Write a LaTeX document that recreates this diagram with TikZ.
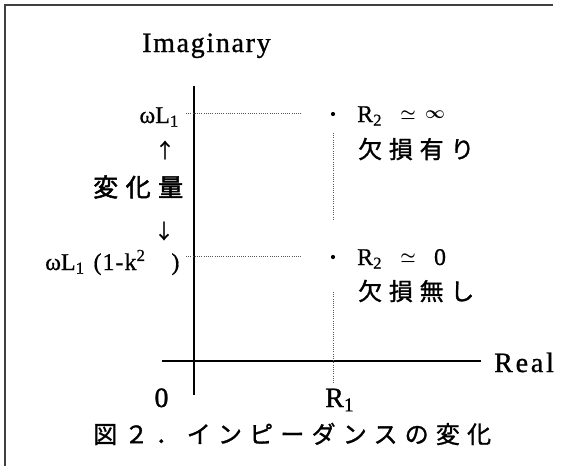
\documentclass[tikz,border=0pt]{standalone}
\usepackage{fontspec}
\setmainfont{Liberation Serif}
\newfontfamily\jp{Noto Sans CJK JP}
\newcommand\lblfont{\fontsize{24}{28}\selectfont\addfontfeature{FakeBold=0.6}}
\newcommand\bigfnt{\fontsize{28}{32}\selectfont\addfontfeature{FakeBold=1}}
\newcommand\jpfnt{\jp\fontsize{24}{28}\selectfont}
\begin{document}
\begin{tikzpicture}[x=1pt,y=-1pt,
  lbl/.style={inner sep=0pt, font=\lblfont},
  sym/.style={inner sep=0pt, font=\fontsize{17}{20}\selectfont\boldmath},
  big/.style={inner sep=0pt, font=\bigfnt},
  jlbl/.style={inner sep=0pt, font={\jpfnt\addfontfeature{LetterSpace=28,FakeBold=1.2}}},
  arr/.style={inner sep=0pt, font={\jp\fontsize{20}{24}\selectfont\addfontfeature{FakeBold=1.5}}},
  axisline/.style={line width=2.2pt},
  guide/.style={line width=0.9pt, black!65, dash pattern=on 0.9pt off 1.3pt},
  frameline/.style={line width=1.6pt, black!75},
  pt/.style={circle, fill=black, inner sep=0pt, minimum size=4.2pt}]
\useasboundingbox[fill=white] (0,0) rectangle (580,466);
% frame
\coordinate (f1) at (5,466);
\coordinate (f2) at (5,5);
\coordinate (f3) at (553,5);
\draw[frameline] (f1) -- (f2) -- (f3);
% axes
\coordinate (vtop) at (194,86);
\coordinate (vbot) at (194,395);
\coordinate (hl) at (162,361);
\coordinate (hr) at (481,361);
\draw[axisline] (vbot) -- (vtop);
\draw[axisline] (hl) -- (hr);
% axis labels
\node[big, anchor=base west, font={\bigfnt\addfontfeature{LetterSpace=6}}] (imag) at (142,52) {Imaginary};
\node[big, anchor=base west, font={\bigfnt\addfontfeature{LetterSpace=10}}] (real) at (494,372) {Real};
\node[big, anchor=base] (zero) at (161.5,407) {0};
\node[big, anchor=base west] (r1) at (325,407) {R\textsubscript{1}};
% left labels
\node[lbl, anchor=base east] (wl1) at (179,123) {ωL\textsubscript{1}};
\node[arr] (up) at (165,150) {↑};
\node[inner sep=0pt, anchor=west, font={\jp\fontsize{25}{28}\selectfont\addfontfeature{LetterSpace=30,FakeBold=2}}] (henka) at (93,187) {変化量};
\node[arr] (down) at (164,231) {↓};
\node[lbl, anchor=base west] (wl2) at (45,270) {ωL\textsubscript{1}\hspace{9pt}(\hspace{1pt}1\hspace{1pt}-\hspace{1pt}k\textsuperscript{2}\hspace{26pt})};
% points
\node[pt] (p1) at (333,114) {};
\node[pt] (p2) at (333,257) {};
% guides
\coordinate (g1a) at (186,113);
\coordinate (g1b) at (302,113);
\coordinate (g2a) at (186,256);
\coordinate (g2b) at (302,256);
\coordinate (v1a) at (333,133);
\coordinate (v1b) at (333,220);
\coordinate (v2a) at (333,292);
\coordinate (v2b) at (333,383);
\draw[guide] (g1a) -- (g1b);
\draw[guide] (g2a) -- (g2b);
\draw[guide] (v1a) -- (v1b);
\draw[guide] (v2a) -- (v2b);
% right labels
\node[lbl, anchor=base west] (r2a) at (357,122) {R\textsubscript{2}};
\node[sym] (sima) at (408,115) {$\simeq$};
\node[sym] (inf) at (435,115) {$\infty$};
\node[jlbl, anchor=west] (ari) at (358,149) {欠損有り};
\node[lbl, anchor=base west] (r2b) at (357,265) {R\textsubscript{2}};
\node[sym] (simb) at (408,258) {$\simeq$};
\node[lbl, anchor=base] (zerob) at (440,265) {0};
\node[jlbl, anchor=west] (nashi) at (358,291) {欠損無し};
% caption
\node[inner sep=0pt, anchor=west, font={\jpfnt\addfontfeature{LetterSpace=30,FakeBold=1.2}}] (cap) at (93,434) {図２．インピーダンスの変化};
\end{tikzpicture}
\end{document}
